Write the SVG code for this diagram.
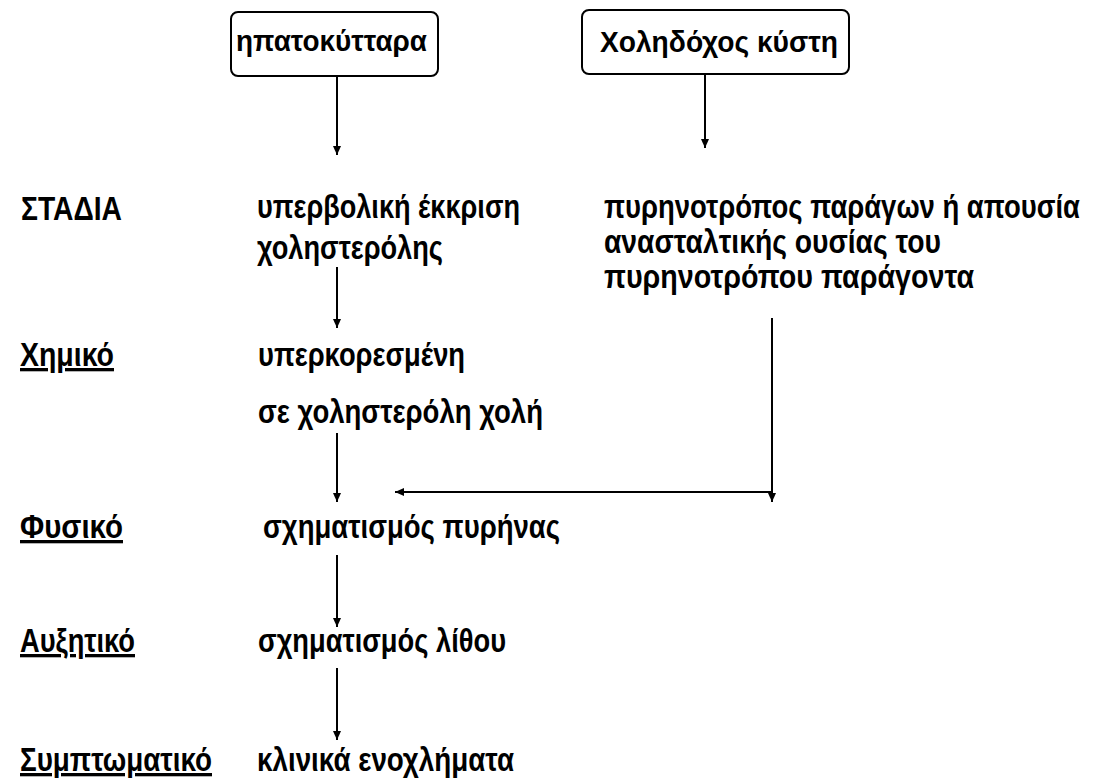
<svg xmlns="http://www.w3.org/2000/svg" width="1096" height="783" viewBox="0 0 1096 783">
  <style>
    text { font-family: "Liberation Sans", Arial, sans-serif; font-weight: bold; fill: #000; }
    .t { font-size: 33px; }
    .bt { font-size: 30px; }
    .lbl { font-size: 33px; text-decoration: underline; }
    .box { fill: #fff; stroke: #000; stroke-width: 2; }
    .conn { fill: none; stroke: #000; stroke-width: 2; }
  </style>
  <defs>
    <marker id="arr" markerUnits="userSpaceOnUse" markerWidth="10" markerHeight="10" refX="9" refY="5" orient="auto">
      <path d="M0,1 L9,5 L0,9 z" fill="#000"/>
    </marker>
  </defs>
  <rect x="0" y="0" width="1096" height="783" fill="#fff"/>

  <g id="hepatocytes">
    <rect class="box" x="231" y="12" width="207" height="64" rx="7"/>
    <text class="bt" x="236" y="51" textLength="191" lengthAdjust="spacingAndGlyphs">ηπατοκύτταρα</text>
  </g>
  <g id="gallbladder">
    <rect class="box" x="582" y="10" width="267" height="64" rx="7"/>
    <text class="bt" x="600" y="52" textLength="238" lengthAdjust="spacingAndGlyphs">Χοληδόχος κύστη</text>
  </g>

  <g id="stages-header">
    <text class="t" x="21" y="220" textLength="101" lengthAdjust="spacingAndGlyphs">ΣΤΑΔΙΑ</text>
  </g>
  <g id="cholesterol-secretion">
    <text class="t" x="257" y="218" textLength="263" lengthAdjust="spacingAndGlyphs">υπερβολική έκκριση</text>
    <text class="t" x="257" y="259" textLength="186" lengthAdjust="spacingAndGlyphs">χοληστερόλης</text>
  </g>
  <g id="nucleation-factor">
    <text transform="translate(604,218) scale(1,1.18)" x="0" y="0" font-size="28" textLength="476" lengthAdjust="spacingAndGlyphs">πυρηνοτρόπος παράγων ή απουσία</text>
    <text class="t" x="604" y="253" textLength="337" lengthAdjust="spacingAndGlyphs">ανασταλτικής ουσίας του</text>
    <text class="t" x="604" y="288" textLength="370" lengthAdjust="spacingAndGlyphs">πυρηνοτρόπου παράγοντα</text>
  </g>

  <g id="stage-chemical">
    <text class="lbl" x="20" y="366" textLength="94" lengthAdjust="spacingAndGlyphs">Χημικό</text>
  </g>
  <g id="supersaturated-bile">
    <text class="t" x="258" y="366" textLength="207" lengthAdjust="spacingAndGlyphs">υπερκορεσμένη</text>
    <text class="t" x="258" y="423" textLength="285" lengthAdjust="spacingAndGlyphs">σε χοληστερόλη χολή</text>
  </g>

  <g id="stage-physical">
    <text class="lbl" x="20" y="538" textLength="103" lengthAdjust="spacingAndGlyphs">Φυσικό </text>
  </g>
  <g id="nucleus-formation">
    <text class="t" x="263" y="538" textLength="297" lengthAdjust="spacingAndGlyphs">σχηματισμός πυρήνας</text>
  </g>

  <g id="stage-growth">
    <text class="lbl" x="20" y="652" textLength="115" lengthAdjust="spacingAndGlyphs">Αυξητικό</text>
  </g>
  <g id="stone-formation">
    <text class="t" x="258" y="652" textLength="248" lengthAdjust="spacingAndGlyphs">σχηματισμός λίθου</text>
  </g>

  <g id="stage-symptomatic">
    <text class="lbl" x="20" y="771" textLength="192" lengthAdjust="spacingAndGlyphs">Συμπτωματικό</text>
  </g>
  <g id="clinical-symptoms">
    <text class="t" x="257" y="771" textLength="257" lengthAdjust="spacingAndGlyphs">κλινικά ενοχλήματα</text>
  </g>

  <g id="connectors">
    <line class="conn" x1="337" y1="76" x2="337" y2="155" marker-end="url(#arr)"/>
    <line class="conn" x1="705" y1="74" x2="705" y2="148" marker-end="url(#arr)"/>
    <line class="conn" x1="337" y1="267" x2="337" y2="328" marker-end="url(#arr)"/>
    <line class="conn" x1="337" y1="433" x2="337" y2="502" marker-end="url(#arr)"/>
    <line class="conn" x1="772" y1="318" x2="772" y2="502" marker-end="url(#arr)"/>
    <line class="conn" x1="772" y1="492" x2="395" y2="492" marker-end="url(#arr)"/>
    <line class="conn" x1="337" y1="555" x2="337" y2="627" marker-end="url(#arr)"/>
    <line class="conn" x1="337" y1="668" x2="337" y2="740" marker-end="url(#arr)"/>
  </g>
</svg>
